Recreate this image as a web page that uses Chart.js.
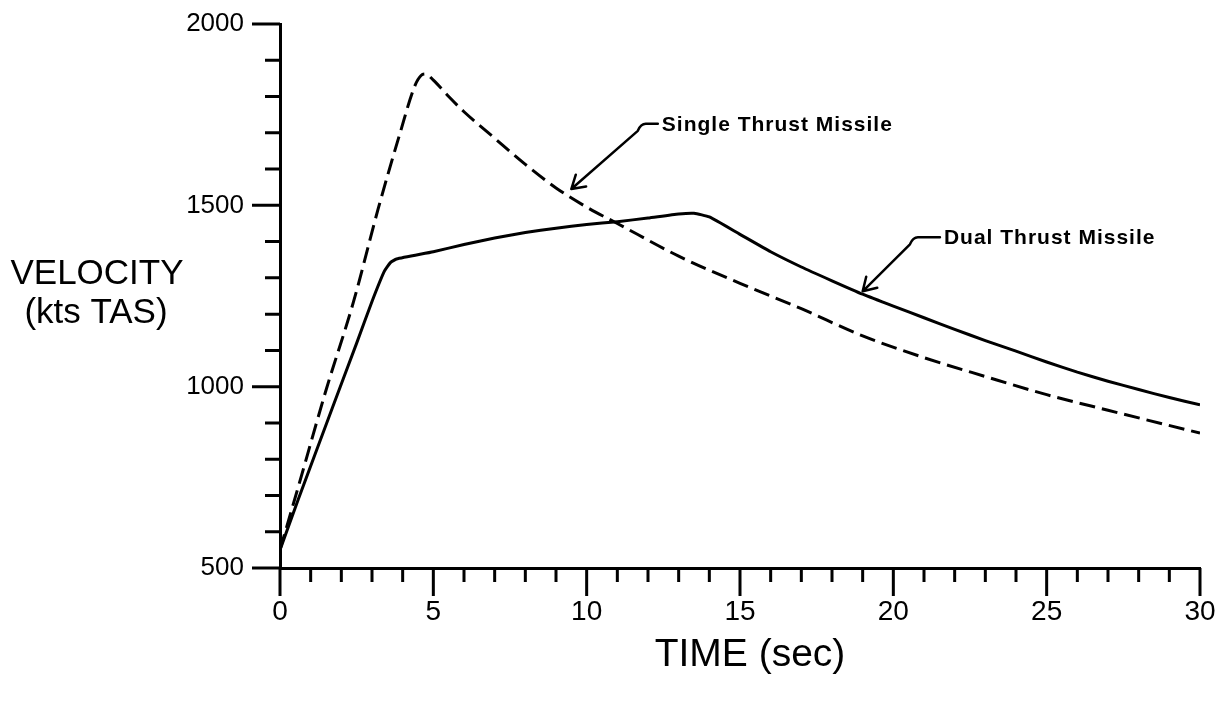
<!DOCTYPE html>
<html>
<head>
<meta charset="utf-8">
<title>Missile Velocity vs Time</title>
<script src="https://cdn.jsdelivr.net/npm/chart.js@4.4.1/dist/chart.umd.min.js"></script>
<style>
  html, body { margin: 0; padding: 0; background: #fff; }
</style>
</head>
<body>
<canvas id="velChart" width="1224" height="701"></canvas>
<script>
  // Single thrust missile (dashed curve)
  const singleTime = [0, 0.6, 1.5, 2.4, 3.2, 3.9, 4.4, 4.6, 4.75, 5.0, 5.5, 6.0, 7.0, 8.0, 9.0, 10.0, 11.0, 13.0, 15.0, 17.0, 19.0, 21.0, 23.0, 25.0, 27.0, 30.0];
  const singleVel  = [550, 725, 990, 1235, 1490, 1695, 1830, 1858, 1862, 1845, 1800, 1758, 1685, 1613, 1548, 1495, 1450, 1360, 1285, 1215, 1140, 1080, 1028, 978, 935, 872];

  // Dual thrust missile (solid curve)
  const dualTime = [0, 0.6, 1.7, 2.5, 3.0, 3.4, 3.6, 3.8, 5, 6, 7, 8, 9, 10, 11, 12, 13, 13.5, 14, 15, 16, 17, 18, 19, 20, 21, 22, 23, 24, 25, 26, 27, 28, 29, 30];
  const dualVel  = [550, 690, 940, 1120, 1235, 1318, 1342, 1352, 1372, 1392, 1410, 1425, 1437, 1447, 1455, 1465, 1476, 1478, 1468, 1420, 1372, 1330, 1292, 1255, 1222, 1190, 1158, 1127, 1098, 1068, 1040, 1015, 992, 970, 950];

  const xTickLabels = [0, 5, 10, 15, 20, 25, 30];
  const yTickLabels = [500, 1000, 1500, 2000];

  // Callouts, anchored in data units
  const callouts = [
    { text: 'Single Thrust Missile', labelT: 12.45, labelV: 1722, tipT: 9.5, tipV: 1545, dash: 12 },
    { text: 'Dual Thrust Missile', labelT: 21.65, labelV: 1409, tipT: 19.0, tipV: 1263, dash: 22 }
  ];

  const FONT = '"Liberation Sans", Arial, sans-serif';

  function toPoints(ts, vs) {
    return ts.map((t, i) => ({ x: t, y: vs[i] }));
  }

  // Tick marks: minor + major, drawn outside the plot
  const tickMarks = {
    id: 'tickMarks',
    afterDraw(chart) {
      const { ctx, chartArea, scales: { x, y } } = chart;
      ctx.save();
      ctx.strokeStyle = '#000';
      ctx.lineWidth = 3;
      ctx.beginPath();
      x.ticks.forEach(t => {
        const px = x.getPixelForValue(t.value);
        const len = xTickLabels.includes(t.value) ? 28 : 14;
        ctx.moveTo(px, chartArea.bottom);
        ctx.lineTo(px, chartArea.bottom + len);
      });
      y.ticks.forEach(t => {
        const py = y.getPixelForValue(t.value);
        const len = yTickLabels.includes(t.value) ? 28 : 15;
        ctx.moveTo(chartArea.left, py);
        ctx.lineTo(chartArea.left - len, py);
      });
      ctx.stroke();
      ctx.restore();
    }
  };

  // Horizontal y-axis title, x-axis title and callout labels with leader arrows
  const annotations = {
    id: 'annotations',
    afterDraw(chart) {
      const { ctx, chartArea, scales: { x, y } } = chart;
      ctx.save();
      ctx.fillStyle = '#000';
      ctx.textAlign = 'center';
      ctx.textBaseline = 'middle';
      ctx.font = '35px ' + FONT;
      const midY = (chartArea.top + chartArea.bottom) / 2;
      ctx.fillText('VELOCITY', 97, midY - 22);
      ctx.fillText('(kts TAS)', 96, midY + 17);

      ctx.font = '39px ' + FONT;
      ctx.fillText('TIME (sec)', (chartArea.left + chartArea.right) / 2 + 10, chartArea.bottom + 87);

      ctx.font = 'bold 21px ' + FONT;
      ctx.textAlign = 'left';
      if ('letterSpacing' in ctx) ctx.letterSpacing = '1px';
      ctx.strokeStyle = '#000';
      ctx.lineWidth = 2.5;
      ctx.lineCap = 'round';
      ctx.lineJoin = 'round';
      callouts.forEach(c => {
        const lx = x.getPixelForValue(c.labelT);
        const ly = y.getPixelForValue(c.labelV);
        const tx = x.getPixelForValue(c.tipT);
        const ty = y.getPixelForValue(c.tipV);
        ctx.fillText(c.text, lx, ly);

        const sx = lx - 4 - c.dash, sy = ly - 1;
        const bx = sx - 8, by = sy + 7;
        ctx.beginPath();
        ctx.moveTo(lx - 4, sy);
        ctx.lineTo(sx, sy);
        ctx.quadraticCurveTo(sx - 5, sy, bx, by);
        ctx.lineTo(tx, ty);
        const ang = Math.atan2(ty - by, tx - bx);
        [-1, 1].forEach(s => {
          const a = ang + Math.PI + s * 0.55;
          ctx.moveTo(tx, ty);
          ctx.lineTo(tx + 15 * Math.cos(a), ty + 15 * Math.sin(a));
        });
        ctx.stroke();
      });
      ctx.restore();
    }
  };

  new Chart(document.getElementById('velChart'), {
    type: 'line',
    data: {
      datasets: [
        {
          label: 'Single Thrust Missile',
          data: toPoints(singleTime, singleVel),
          borderColor: '#000',
          borderWidth: 3,
          borderDash: [16, 7],
          pointRadius: 0,
          cubicInterpolationMode: 'monotone',
          fill: false
        },
        {
          label: 'Dual Thrust Missile',
          data: toPoints(dualTime, dualVel),
          borderColor: '#000',
          borderWidth: 3,
          pointRadius: 0,
          tension: 0.15,
          fill: false
        }
      ]
    },
    options: {
      responsive: false,
      animation: false,
      layout: { padding: { top: 24, right: 24, left: 0, bottom: 0 } },
      plugins: {
        legend: { display: false },
        tooltip: { enabled: false }
      },
      scales: {
        x: {
          type: 'linear',
          position: 'bottom',
          min: 0,
          max: 30,
          grid: { display: false, drawTicks: false },
          border: { display: true, color: '#000', width: 3 },
          ticks: {
            stepSize: 1,
            autoSkip: false,
            maxRotation: 0,
            padding: 27,
            color: '#000',
            font: { family: FONT, size: 28 },
            callback: v => xTickLabels.includes(v) ? String(v) : ''
          },
          afterFit: s => {
            s.height = 133;
            s.paddingLeft = 0;
            s.paddingRight = 0;
          }
        },
        y: {
          type: 'linear',
          min: 500,
          max: 2000,
          grid: { display: false, drawTicks: false },
          border: { display: true, color: '#000', width: 3 },
          ticks: {
            stepSize: 100,
            autoSkip: false,
            padding: 36,
            color: '#000',
            font: { family: FONT, size: 26 },
            callback: v => yTickLabels.includes(v) ? String(v) : ''
          },
          afterFit: s => {
            s.width = 280;
            s.paddingTop = 0;
            s.paddingBottom = 0;
          }
        }
      }
    },
    plugins: [tickMarks, annotations]
  });
</script>
</body>
</html>
